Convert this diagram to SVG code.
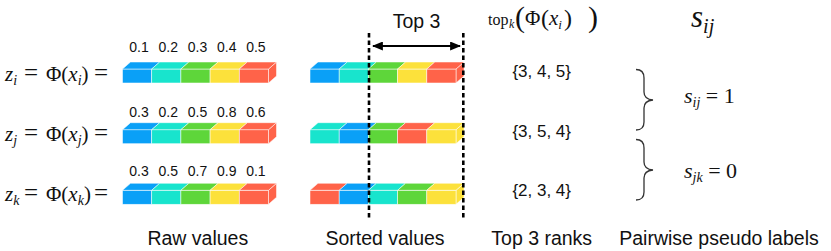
<svg xmlns="http://www.w3.org/2000/svg" xmlns:xlink="http://www.w3.org/1999/xlink" width="831" height="251" viewBox="0 0 831 251">
<style>
.b{fill:#0aa0f7}.c{fill:#18e4cd}.g{fill:#5ed63a}.y{fill:#fce13b}.r{fill:#ff6349}
.cube rect,.cube polygon{stroke:#ffffff;stroke-width:0.7;stroke-opacity:0.75}
.num{font-family:"Liberation Sans",Arial,sans-serif;font-size:14px;fill:#111;text-anchor:middle}
.lab{font-family:"Liberation Sans",Arial,sans-serif;font-size:19.5px;fill:#111;text-anchor:middle}
.set{font-family:"Liberation Sans",Arial,sans-serif;font-size:17px;fill:#111;text-anchor:middle}
.m{font-family:"Liberation Serif","Times New Roman",serif;font-size:21px;fill:#111}
.it{font-style:italic}
.dash{stroke:#000;stroke-width:2.6;stroke-dasharray:4.5 3;fill:none}
.brace{stroke:#333;stroke-width:1.3;fill:none}
</style>
<defs>
<g id="cube" class="cube"><rect x="0" y="7" width="29.2" height="14"/><polygon points="0,7 8,0 37.2,0 29.2,7"/></g>
<g id="cubeEnd" class="cube"><polygon points="29.2,7 37.2,0 37.2,14 29.2,21"/><rect x="0" y="7" width="29.2" height="14"/><polygon points="0,7 8,0 37.2,0 29.2,7"/></g>
<marker id="ah" viewBox="0 0 10 10" refX="9" refY="5" markerWidth="5.5" markerHeight="4.5" orient="auto-start-reverse" preserveAspectRatio="none"><path d="M0,0 L10,5 L0,10 z" fill="#000"/></marker>
</defs>

<g id="label-zi" class="m"><text x="5" y="81"><tspan class="it">z</tspan><tspan class="it" font-size="14" dy="4">i</tspan><tspan x="24" dy="-4" font-size="25">=</tspan><tspan x="46">Φ(</tspan><tspan class="it">x</tspan><tspan class="it" font-size="14" dy="4">i</tspan><tspan dy="-4">)</tspan><tspan x="94" font-size="25">=</tspan></text></g>
<g id="label-zj" class="m"><text x="5" y="141"><tspan class="it">z</tspan><tspan class="it" font-size="14" dy="4">j</tspan><tspan x="24" dy="-4" font-size="25">=</tspan><tspan x="46">Φ(</tspan><tspan class="it">x</tspan><tspan class="it" font-size="14" dy="4">j</tspan><tspan dy="-4">)</tspan><tspan x="94" font-size="25">=</tspan></text></g>
<g id="label-zk" class="m"><text x="5" y="201"><tspan class="it">z</tspan><tspan class="it" font-size="14" dy="4">k</tspan><tspan x="24" dy="-4" font-size="25">=</tspan><tspan x="46">Φ(</tspan><tspan class="it">x</tspan><tspan class="it" font-size="14" dy="4">k</tspan><tspan dy="-4">)</tspan><tspan x="94" font-size="25">=</tspan></text></g>

<g id="raw-i">
<text class="num" x="139" y="51.5">0.1</text><text class="num" x="168.3" y="51.5">0.2</text><text class="num" x="197.5" y="51.5">0.3</text><text class="num" x="226.7" y="51.5">0.4</text><text class="num" x="255.9" y="51.5">0.5</text>
<g transform="translate(122.5,62)"><use xlink:href="#cube" class="b"/><use xlink:href="#cube" x="29.2" class="c"/><use xlink:href="#cube" x="58.4" class="g"/><use xlink:href="#cube" x="87.6" class="y"/><use xlink:href="#cubeEnd" x="116.8" class="r"/></g>
</g>
<g id="raw-j">
<text class="num" x="139" y="117.3">0.3</text><text class="num" x="168.3" y="117.3">0.2</text><text class="num" x="197.5" y="117.3">0.5</text><text class="num" x="226.7" y="117.3">0.8</text><text class="num" x="255.9" y="117.3">0.6</text>
<g transform="translate(122.5,122.7)"><use xlink:href="#cube" class="b"/><use xlink:href="#cube" x="29.2" class="c"/><use xlink:href="#cube" x="58.4" class="g"/><use xlink:href="#cube" x="87.6" class="y"/><use xlink:href="#cubeEnd" x="116.8" class="r"/></g>
</g>
<g id="raw-k">
<text class="num" x="139" y="176">0.3</text><text class="num" x="168.3" y="176">0.5</text><text class="num" x="197.5" y="176">0.7</text><text class="num" x="226.7" y="176">0.9</text><text class="num" x="255.9" y="176">0.1</text>
<g transform="translate(122.5,183.3)"><use xlink:href="#cube" class="b"/><use xlink:href="#cube" x="29.2" class="c"/><use xlink:href="#cube" x="58.4" class="g"/><use xlink:href="#cube" x="87.6" class="y"/><use xlink:href="#cubeEnd" x="116.8" class="r"/></g>
</g>

<g id="sorted-i" transform="translate(310,62)"><use xlink:href="#cube" class="b"/><use xlink:href="#cube" x="29.2" class="c"/><use xlink:href="#cube" x="58.4" class="g"/><use xlink:href="#cube" x="87.6" class="y"/><use xlink:href="#cubeEnd" x="116.8" class="r"/></g>
<g id="sorted-j" transform="translate(310,122.7)"><use xlink:href="#cube" class="c"/><use xlink:href="#cube" x="29.2" class="b"/><use xlink:href="#cube" x="58.4" class="g"/><use xlink:href="#cube" x="87.6" class="r"/><use xlink:href="#cubeEnd" x="116.8" class="y"/></g>
<g id="sorted-k" transform="translate(310,183.3)"><use xlink:href="#cube" class="r"/><use xlink:href="#cube" x="29.2" class="b"/><use xlink:href="#cube" x="58.4" class="c"/><use xlink:href="#cube" x="87.6" class="g"/><use xlink:href="#cubeEnd" x="116.8" class="y"/></g>

<g id="connectors">
<line class="dash" x1="369" y1="33" x2="369" y2="219"/>
<line class="dash" x1="463.3" y1="33" x2="463.3" y2="219"/>
<line x1="373" y1="46" x2="460" y2="46" stroke="#000" stroke-width="2" marker-start="url(#ah)" marker-end="url(#ah)"/>
<path class="brace" d="M636,69.5 C641,69.5 644,72 644,78 L644,92 C644,97 647,99.5 653,100 C647,100.5 644,103 644,108 L644,122 C644,128 641,130 636,130"/>
<path class="brace" d="M636,139.5 C641,139.5 644,142 644,148 L644,162 C644,167 647,169.5 653,170 C647,170.5 644,173 644,178 L644,192 C644,198 641,200 636,200"/>
</g>

<g id="top3-label"><text class="lab" x="416.5" y="28">Top 3</text></g>

<g id="topk-header" class="m">
<text x="488" y="25" font-size="16">top</text>
<text x="509" y="28" font-size="12" class="it">k</text>
<text x="515" y="27" font-size="30">(</text>
<text x="525" y="25" font-size="21">Φ</text>
<text x="541" y="26" font-size="24">(</text>
<text x="549" y="25" font-size="21" class="it">x<tspan font-size="13" dy="4">i</tspan></text>
<text x="564" y="26" font-size="24">)</text>
<text x="588" y="27" font-size="30">)</text>
</g>

<g id="sij-header" class="m"><text x="691" y="27" font-size="31"><tspan class="it">s</tspan><tspan class="it" font-size="20" dy="6">ij</tspan></text></g>

<g id="set-i"><text class="set" x="541.7" y="77">{3, 4, 5}</text></g>
<g id="set-j"><text class="set" x="541.7" y="137">{3, 5, 4}</text></g>
<g id="set-k"><text class="set" x="541.7" y="196">{2, 3, 4}</text></g>

<g id="sij-eq" class="m"><text x="684" y="103" font-size="22"><tspan class="it">s</tspan><tspan class="it" font-size="14" dy="4">ij</tspan><tspan dy="-4"> = 1</tspan></text></g>
<g id="sjk-eq" class="m"><text x="684" y="178" font-size="22"><tspan class="it">s</tspan><tspan class="it" font-size="14" dy="4">jk</tspan><tspan dy="-4"> = 0</tspan></text></g>

<g id="bottom-labels">
<text class="lab" x="197.8" y="244.5">Raw values</text>
<text class="lab" x="385" y="244.5">Sorted values</text>
<text class="lab" x="541.7" y="244.5">Top 3 ranks</text>
<text class="lab" x="719" y="244.5">Pairwise pseudo labels</text>
</g>
</svg>
